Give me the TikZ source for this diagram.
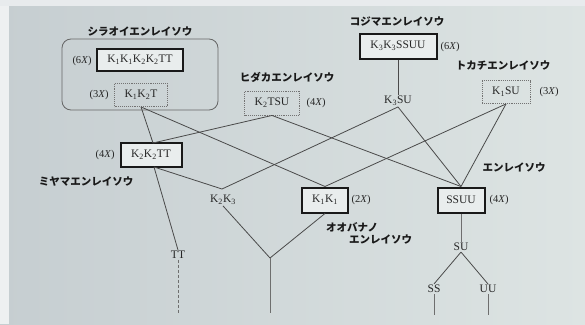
\documentclass[tikz,border=0pt]{standalone}
\usepackage{fontspec}
\setmainfont{Liberation Serif}
\newfontfamily\jp{Noto Sans CJK JP}
\newcommand{\Kx}[1]{K\textsubscript{#1}}
\newcommand{\Xn}[1]{(#1\textit{X})}
\definecolor{ln}{HTML}{4A4A4A}
\definecolor{bgl}{HTML}{C6CED1}
\definecolor{bgr}{HTML}{DDE4E3}
\tikzset{
  lab/.style={font=\fontsize{11.5}{13}\selectfont, inner sep=1pt, text=black!85},
  ploid/.style={font=\fontsize{10.5}{12}\selectfont, inner sep=1pt, text=black!85},
  jt/.style={font=\jp\bfseries\fontsize{10.5}{12}\selectfont, inner sep=1pt, text=black!90},
  solidbox/.style={draw=black!90, line width=2pt, minimum height=22pt, inner sep=2pt, fill=white!35!bgr,
    font=\fontsize{11.5}{13}\selectfont, text=black!85},
  dotbox/.style={draw=black!55, densely dotted, line width=0.9pt, minimum height=23pt, inner sep=2pt,
    font=\fontsize{11.5}{13}\selectfont, text=black!85},
  link/.style={draw=ln, line width=0.8pt},
  stem/.style={draw=ln!80, line width=0.7pt},
}
\begin{document}
\begin{tikzpicture}[x=1pt,y=-1pt]
\useasboundingbox (0,0) rectangle (585,324);
\shade[left color=bgl, right color=bgr] (0,0) rectangle (585,324);
\fill[white!70!bgl] (0,0) rectangle (9,324);
\fill[white!60!bgl] (0,0) rectangle (585,6);

% Shiraoi group
\node[jt] (tShiraoi) at (140,32) {シラオイエンレイソウ};
\draw[draw=black!60, line width=0.8pt, rounded corners=9pt] (62,39) rectangle (218,110);
\node[solidbox, minimum width=86pt] (s6) at (140,60) {\Kx{1}\Kx{1}\Kx{2}\Kx{2}TT};
\node[ploid] (s6x) at (82,61) {\Xn{6}};
\node[dotbox, minimum width=53pt] (s3) at (141,95) {\Kx{1}\Kx{2}T};
\node[ploid] (s3x) at (99,95) {\Xn{3}};

% Kojima
\node[jt] (tKojima) at (397,22) {コジマエンレイソウ};
\node[solidbox, minimum width=77pt, minimum height=25pt] (kojima) at (398,46) {\Kx{3}\Kx{3}SSUU};
\node[ploid] (kojimax) at (450,47) {\Xn{6}};
\node[lab] (k3su) at (398,101) {\Kx{3}SU};

% Hidaka
\node[jt] (tHidaka) at (287,77) {ヒダカエンレイソウ};
\node[dotbox, minimum width=55pt, minimum height=24pt] (hidaka) at (272,103) {\Kx{2}TSU};
\node[ploid] (hidakax) at (316,103) {\Xn{4}};

% Tokachi
\node[jt] (tTokachi) at (503,66) {トカチエンレイソウ};
\node[dotbox, minimum width=48pt] (tokachi) at (506,92) {\Kx{1}SU};
\node[ploid] (tokachix) at (549,92) {\Xn{3}};

% Miyama
\node[solidbox, minimum width=61pt, minimum height=24pt] (miyama) at (151,155) {\Kx{2}\Kx{2}TT};
\node[ploid] (miyamax) at (105,155) {\Xn{4}};
\node[jt] (tMiyama) at (86,182) {ミヤマエンレイソウ};

% K2K3
\coordinate (k23top) at (222,189);
\node[lab] (k23) at (223,200) {\Kx{2}\Kx{3}};

% Oobana
\node[solidbox, minimum width=46pt, minimum height=25pt] (k11) at (325,200) {\Kx{1}\Kx{1}};
\node[ploid] (k11x) at (361,200) {\Xn{2}};
\node[jt, anchor=west] (tOobana1) at (325,227) {オオバナノ};
\node[jt, anchor=west] (tOobana2) at (348,240) {エンレイソウ};

% Enreisou
\node[solidbox, minimum width=47pt, minimum height=25pt] (ssuu) at (461,200) {SSUU};
\node[ploid] (ssuux) at (499,200) {\Xn{4}};
\node[jt] (tEnrei) at (514,168) {エンレイソウ};

\node[lab] (su) at (461,247) {SU};
\node[lab] (ss) at (434,289) {SS};
\node[lab] (uu) at (488,289) {UU};
\node[lab] (tt) at (178,255) {TT};

\coordinate (kroot) at (270,258);
\coordinate (kend) at (270,313);
\coordinate (ttend) at (178,313);
\coordinate (ssend) at (434,315);
\coordinate (uuend) at (488,315);
\coordinate (mtop) at (153,143);
\coordinate (mbot) at (154,167);

% connectors
\draw[link] (s3.south) -- (mtop);
\draw[link] (s3.south) -- (k11.north);
\draw[link] (hidaka.south) -- (mtop);
\draw[link] (hidaka.south) -- (ssuu.north);
\draw[link] (kojima.south) -- (k3su.north);
\draw[link] (k3su.south) -- (k23top);
\draw[link] (k3su.south) -- (ssuu.north);
\draw[link] (tokachi.south) -- (k11.north);
\draw[link] (tokachi.south) -- (ssuu.north);
\draw[link] (mbot) -- (tt.north);
\draw[link] (mbot) -- (k23top);
\draw[link] (k23.south) -- (kroot);
\draw[link] (k11.south) -- (kroot);
\draw[stem] (kroot) -- (kend);
\draw[stem, densely dashed] (tt.south) -- (ttend);
\draw[stem] (ssuu.south) -- (su.north);
\draw[link] (su.south) -- (ss.north);
\draw[link] (su.south) -- (uu.north);
\draw[stem] (ss.south) -- (ssend);
\draw[stem] (uu.south) -- (uuend);
\end{tikzpicture}
\end{document}
